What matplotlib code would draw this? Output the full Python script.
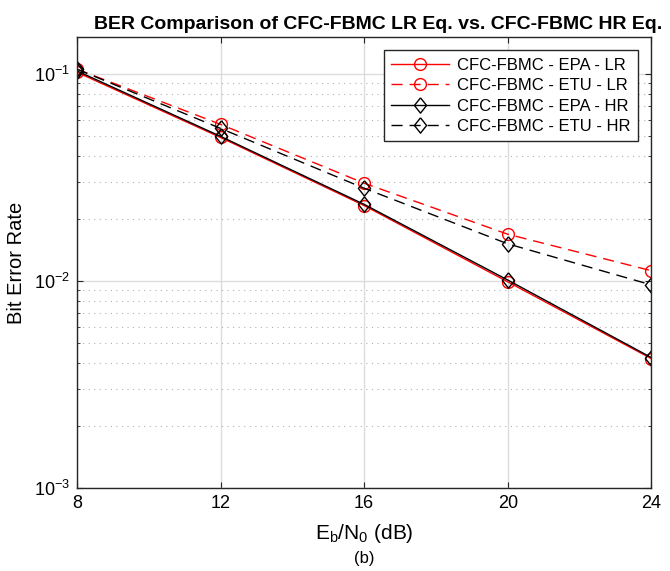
import matplotlib
matplotlib.use('Agg')
import matplotlib.pyplot as plt
from matplotlib.ticker import LogLocator, NullFormatter, FixedLocator

plt.rcParams['font.family'] = ['Liberation Sans', 'DejaVu Sans']
plt.rcParams['mathtext.fontset'] = 'custom'
plt.rcParams['mathtext.rm'] = 'Liberation Sans'

snr = [8, 12, 16, 20, 24]
ber_epa_lr = [0.1015, 0.0492, 0.0231, 0.0099, 0.00422]
ber_etu_lr = [0.1050, 0.0569, 0.0296, 0.0168, 0.0112]
ber_epa_hr = [0.1030, 0.0498, 0.0234, 0.0101, 0.00427]
ber_etu_hr = [0.1050, 0.0544, 0.0280, 0.0151, 0.00957]

labels = ['CFC-FBMC - EPA - LR', 'CFC-FBMC - ETU - LR',
          'CFC-FBMC - EPA - HR', 'CFC-FBMC - ETU - HR']

fig = plt.figure(figsize=(6.7, 5.71), dpi=100)
ax = fig.add_axes([0.115, 0.145, 0.857, 0.79])

dash = (0, (8, 5))
diamond = [(0, 1), (0.8, 0), (0, -1), (-0.8, 0), (0, 1)]
ax.semilogy(snr, ber_epa_lr, color='red', ls='-', lw=1, marker='o', ms=8.5,
            mfc='none', mew=1, label=labels[0])
ax.semilogy(snr, ber_etu_lr, color='red', ls=dash, lw=1, marker='o', ms=8.5,
            mfc='none', mew=1, label=labels[1])
ax.semilogy(snr, ber_epa_hr, color='black', ls='-', lw=1, marker=diamond, ms=11,
            mfc='none', mew=1, label=labels[2])
ax.semilogy(snr, ber_etu_hr, color='black', ls=dash, lw=1, marker=diamond, ms=11,
            mfc='none', mew=1, label=labels[3])

ax.set_xlim(8, 24)
ax.set_ylim(1e-3, 0.15)
ax.xaxis.set_major_locator(FixedLocator(snr))
ax.yaxis.set_major_locator(LogLocator(base=10, numticks=10))
ax.yaxis.set_minor_locator(LogLocator(base=10, subs=range(2, 10), numticks=20))
ax.yaxis.set_minor_formatter(NullFormatter())

ax.grid(True, which='major', color='#dcdcdc', lw=1, ls='-')
ax.grid(True, which='minor', axis='y', color='#b0b0b0', lw=0.8, ls=(0, (1, 4)))
ax.set_axisbelow(True)
ax.tick_params(which='both', direction='in', top=True, right=True,
               labelsize=13, length=4, color='#262626', pad=5)
ax.tick_params(which='minor', length=2.5)
for s in ax.spines.values():
    s.set_color('#262626')
    s.set_linewidth(1)

ax.set_title('BER Comparison of CFC-FBMC LR Eq. vs. CFC-FBMC HR Eq.',
             fontsize=14, fontweight='bold', pad=6, x=0.525)
ax.set_xlabel(r'E$_\mathrm{b}$/N$_\mathrm{0}$ (dB)', fontsize=15, labelpad=7)
ax.set_ylabel('Bit Error Rate', fontsize=14.5, labelpad=6)

leg = ax.legend(loc='upper right', fontsize=12, frameon=True, fancybox=False,
                edgecolor='#262626', framealpha=1, borderaxespad=0.8,
                handlelength=3.5, handletextpad=0.45, labelspacing=0.32,
                borderpad=0.45)
leg.get_frame().set_linewidth(1)

fig.text(0.543, 0.008, '(b)', ha='center', va='bottom', fontsize=12)

fig.savefig('out.png', dpi=100)
